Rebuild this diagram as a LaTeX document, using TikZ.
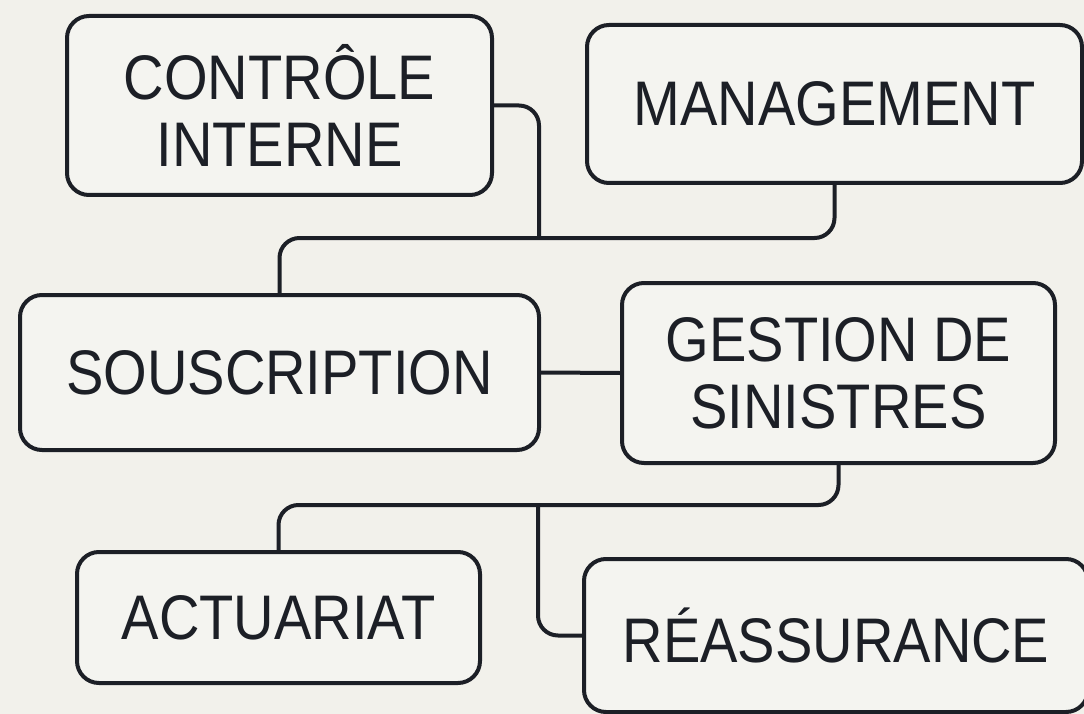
\documentclass[tikz,border=0pt]{standalone}
\usepackage{fontspec}
\setmainfont{Liberation Sans}[FakeStretch=0.89]
\definecolor{bg}{HTML}{F2F1EB}
\definecolor{boxfill}{HTML}{F4F4F0}
\definecolor{ink}{HTML}{1C1F26}
\tikzset{
  box/.style={draw=ink, fill=boxfill, line width=4pt, rounded corners=22pt,
    align=center, inner sep=0pt, text=ink,
    font=\fontsize{63}{67}\selectfont},
  conn/.style={draw=ink, line width=4pt, rounded corners=20pt}
}
\begin{document}
\begin{tikzpicture}[x=1pt,y=-1pt]
\useasboundingbox[fill=bg] (0,0) rectangle (1084,714);
\node[box, minimum width=425pt, minimum height=179pt] (ci) at (279.5,105.5) {CONTRÔLE\\INTERNE};
\node[box, minimum width=495pt, minimum height=158pt] (mg) at (834.5,104) {MANAGEMENT};
\node[box, minimum width=519pt, minimum height=155pt] (so) at (279.5,372.5) {SOUSCRIPTION};
\node[box, minimum width=433pt, minimum height=180pt] (gs) at (838.5,373) {GESTION DE\\SINISTRES};
\node[box, minimum width=403pt, minimum height=131pt] (ac) at (278.5,617.5) {ACTUARIAT};
\node[box, minimum width=504pt, minimum height=153pt] (re) at (836,635.5) {RÉASSURANCE};
\coordinate (bus1) at (539,238);
\coordinate (bus2) at (538,505);
% top connectors
\draw[conn] (ci.east) -| (bus1);
\draw[conn] (mg.south) -- (mg.south |- bus1) -- (so.north |- bus1) -- (so.north);
% middle
\draw[conn] (so.east) -- (gs.west);
% bottom connectors
\draw[conn] (gs.south) -- (gs.south |- bus2) -- (ac.north |- bus2) -- (ac.north);
\draw[conn] (bus2) |- (re.west);
\end{tikzpicture}
\end{document}
